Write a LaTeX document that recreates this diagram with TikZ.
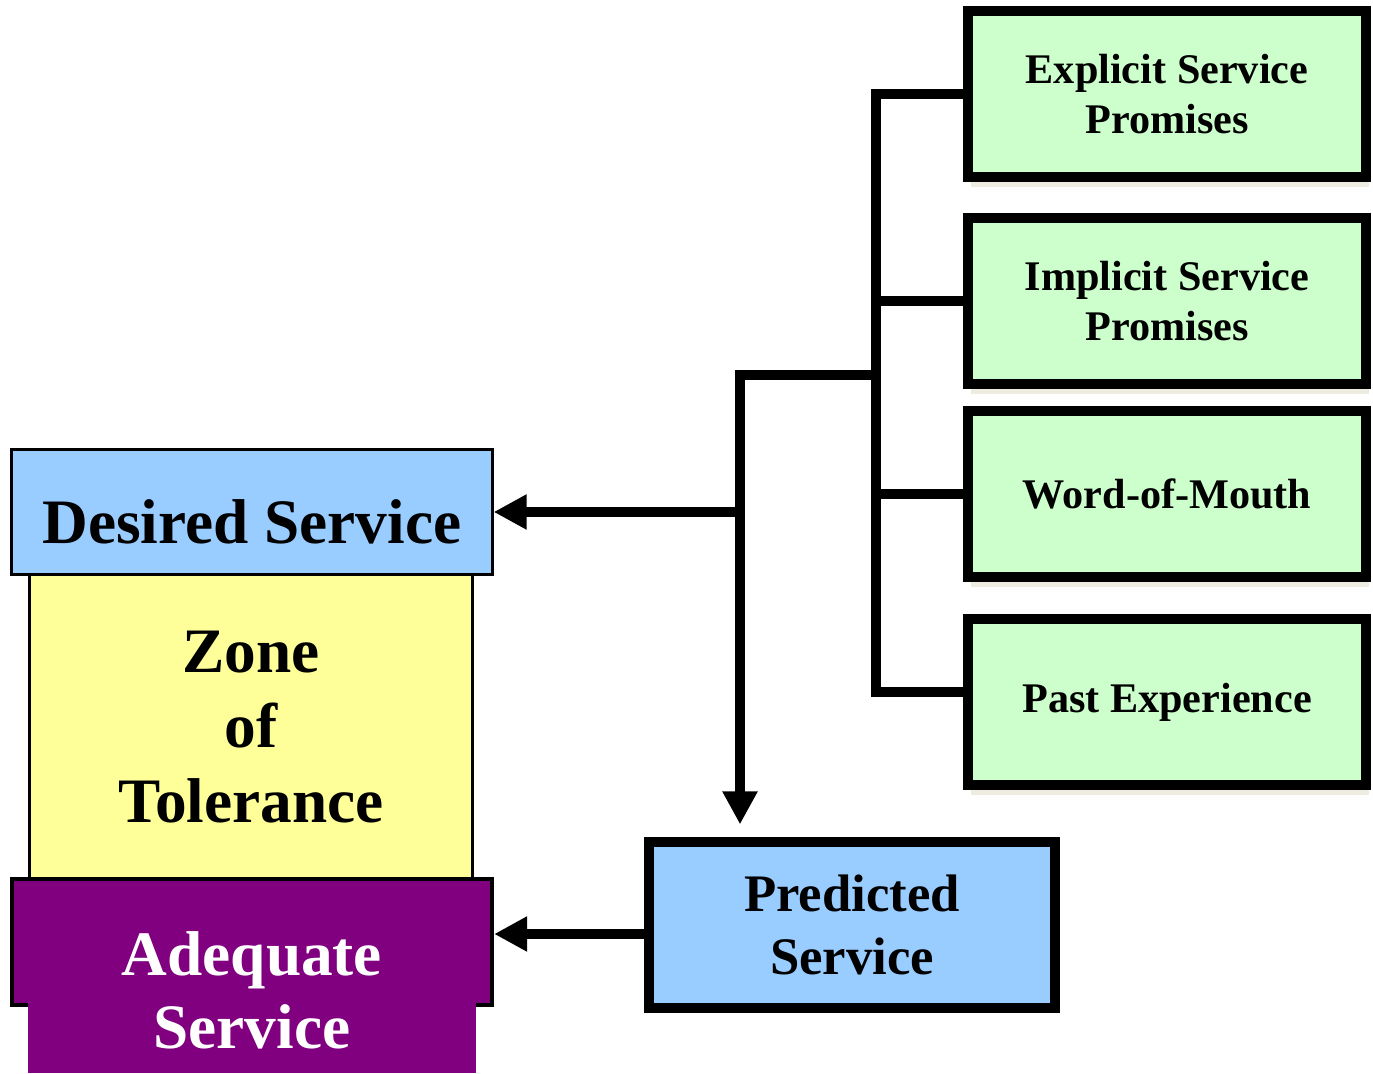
\documentclass[tikz,border=0pt]{standalone}
\usepackage{fontspec}
\setmainfont{Liberation Serif}
\usepackage{tikz}
\usetikzlibrary{positioning, arrows.meta, shadows}
\definecolor{dBlue}{HTML}{99CCFF}
\definecolor{zYellow}{HTML}{FFFF99}
\definecolor{aPurple}{HTML}{800080}
\definecolor{sGreen}{HTML}{CCFFCC}
\definecolor{sBeige}{HTML}{EEEBE0}
\tikzset{
  servbox/.style={draw=black, line width=0.03cm, inner sep=0pt, align=center,
    font=\fontsize{18}{21.3}\selectfont\bfseries},
  levelbox/.style={servbox, fill=dBlue, minimum width=4.8cm, minimum height=1.25cm},
  zonebox/.style={servbox, fill=zYellow, minimum width=4.42cm, minimum height=3.05cm},
  adeqbox/.style={servbox, fill=aPurple, line width=0.04cm, minimum width=4.8cm, minimum height=1.25cm},
  adeqtext/.style={fill=aPurple, text=white, inner xsep=0pt, inner ysep=0.24cm, minimum width=4.48cm,
    align=center, font=\fontsize{18}{20.8}\selectfont\bfseries},
  predbox/.style={servbox, fill=dBlue, line width=0.1cm, minimum width=4.05cm, minimum height=1.65cm,
    font=\fontsize{15}{18}\selectfont\bfseries},
  srcbox/.style={draw=black, fill=sGreen, line width=0.1cm, minimum width=3.98cm, minimum height=1.66cm,
    align=center, font=\fontsize{12}{14.2}\selectfont\bfseries,
    drop shadow={shadow xshift=0.03cm, shadow yshift=-0.1cm, fill=sBeige, opacity=1}},
  conn/.style={line width=0.1cm, line join=miter},
  arr/.style={conn, -{Triangle[length=0.33cm, width=0.33cm]}},
}

\begin{document}
\begin{tikzpicture}[x=0.01cm, y=-0.01cm]
  \useasboundingbox (0,0) rectangle (1373,1074);
  % expectation levels
  \node[zonebox] (zone) at (251,727) {Zone\\of\\Tolerance};
  \node[levelbox, text height=18pt, text depth=0pt] (desired) at (252,512) {Desired Service};
  \node[adeqbox] (adequate) at (252,942) {};
  \node[adeqtext, anchor=south] (adeqlabel) at (252,1074) {Adequate\\Service};
  % sources
  \node[srcbox] (explicit) at (1167,94) {Explicit Service\\Promises};
  \node[srcbox] (implicit) at (1167,301) {Implicit Service\\Promises};
  \node[srcbox] (wom) at (1167,494) {Word-of-Mouth};
  \node[srcbox] (past) at (1167,702) {Past Experience};
  \node[predbox] (predicted) at (852,925) {Predicted\\Service};
  % connectors
  \coordinate (trunk) at (876,375);
  \coordinate (hub) at (740,375);
  \coordinate (pastin) at ([yshift=0.1cm]past.west);
  \draw[conn] (explicit.west) -| (trunk |- pastin) -- (pastin);
  \draw[conn] (implicit.west) -- (implicit.west -| trunk);
  \draw[conn] (wom.west) -- (wom.west -| trunk);
  \draw[arr] (trunk) -- (hub) -- ([yshift=0.13cm]hub |- predicted.north);
  \draw[arr] (hub |- desired.east) -- (desired.east);
  \draw[arr] ([yshift=-0.09cm]predicted.west) -- ([yshift=-0.09cm]predicted.west -| adequate.east);
\end{tikzpicture}
\end{document}
